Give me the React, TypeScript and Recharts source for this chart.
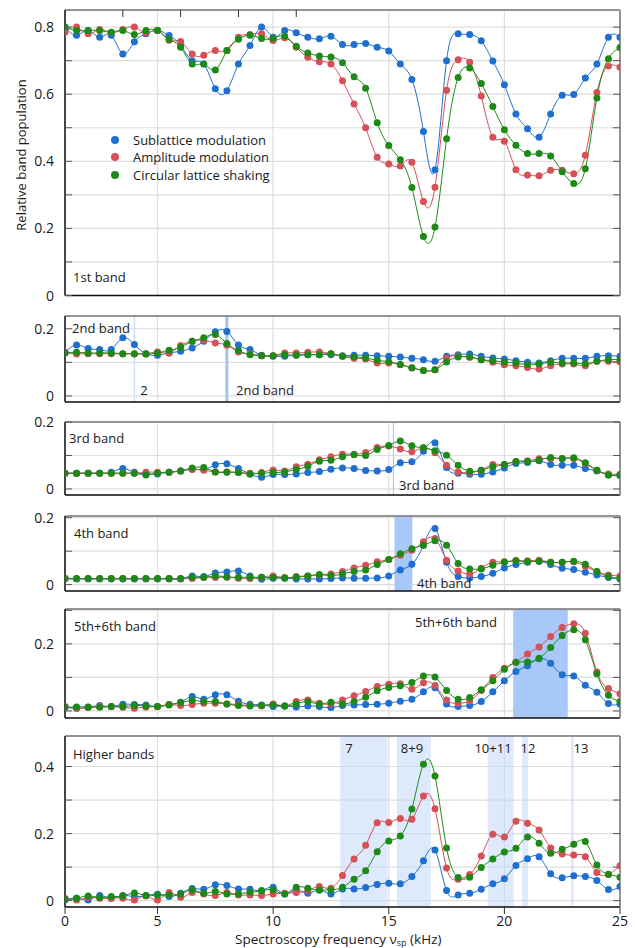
import React from 'react';
import { LineChart, Line, XAxis, YAxis, CartesianGrid, ReferenceArea, ReferenceLine, Legend } from 'recharts';

// spectroscopy frequency (kHz); the left-most column is drawn at the "0" tick
const freq = [
  1, 1.5, 2, 2.5, 3, 3.5, 4, 4.5, 5,
  5.5, 6, 6.5, 7, 7.5, 8, 8.5, 9, 9.5, 10,
  10.5, 11, 11.5, 12, 12.5, 13, 13.5, 14, 14.5, 15,
  15.5, 16, 16.5, 17, 17.5, 18, 18.5, 19, 19.5, 20,
  20.5, 21, 21.5, 22, 22.5, 23, 23.5, 24, 24.5, 25,
];

const seriesNames = ['Sublattice modulation', 'Amplitude modulation', 'Circular lattice shaking'];

// 1st band
const sub1 = [
  0.80, 0.776, 0.79, 0.77, 0.776, 0.72, 0.756, 0.78, 0.79,
  0.775, 0.746, 0.70, 0.69, 0.616, 0.61, 0.69, 0.745, 0.80, 0.77,
  0.79, 0.783, 0.77, 0.765, 0.773, 0.748, 0.748, 0.751, 0.74, 0.729,
  0.69, 0.644, 0.489, 0.375, 0.70, 0.78, 0.778, 0.759, 0.699, 0.628,
  0.541, 0.497, 0.472, 0.541, 0.597, 0.599, 0.648, 0.69, 0.77, 0.77,
];
const amp1 = [
  0.785, 0.80, 0.78, 0.793, 0.784, 0.793, 0.80, 0.783, 0.79,
  0.761, 0.757, 0.72, 0.716, 0.73, 0.73, 0.77, 0.778, 0.78, 0.76,
  0.768, 0.74, 0.71, 0.697, 0.69, 0.64, 0.571, 0.50, 0.412, 0.392,
  0.386, 0.397, 0.28, 0.323, 0.612, 0.703, 0.695, 0.595, 0.472, 0.46,
  0.375, 0.359, 0.357, 0.373, 0.373, 0.363, 0.418, 0.605, 0.684, 0.68,
];
const circ1 = [
  0.80, 0.79, 0.79, 0.79, 0.785, 0.79, 0.778, 0.79, 0.79,
  0.764, 0.74, 0.69, 0.69, 0.672, 0.73, 0.764, 0.776, 0.766, 0.766,
  0.773, 0.743, 0.723, 0.714, 0.711, 0.694, 0.652, 0.618, 0.515, 0.447,
  0.405, 0.322, 0.176, 0.204, 0.467, 0.65, 0.678, 0.632, 0.563, 0.494,
  0.448, 0.423, 0.423, 0.416, 0.369, 0.334, 0.378, 0.589, 0.706, 0.739,
];

// 2nd band
const sub2 = [
  0.13, 0.152, 0.141, 0.138, 0.138, 0.173, 0.153, 0.126, 0.121,
  0.128, 0.133, 0.143, 0.163, 0.191, 0.192, 0.152, 0.138, 0.121, 0.118,
  0.118, 0.122, 0.123, 0.123, 0.123, 0.12, 0.121, 0.121, 0.12, 0.118,
  0.116, 0.112, 0.108, 0.103, 0.118, 0.123, 0.125, 0.118, 0.113, 0.11,
  0.105, 0.10, 0.098, 0.105, 0.112, 0.112, 0.112, 0.118, 0.12, 0.118,
];
const amp2 = [
  0.128, 0.125, 0.126, 0.126, 0.126, 0.125, 0.125, 0.125, 0.131,
  0.128, 0.15, 0.163, 0.166, 0.158, 0.151, 0.131, 0.125, 0.12, 0.12,
  0.128, 0.128, 0.13, 0.131, 0.126, 0.118, 0.112, 0.11, 0.098, 0.098,
  0.093, 0.083, 0.076, 0.078, 0.113, 0.118, 0.115, 0.108, 0.10, 0.093,
  0.09, 0.085, 0.08, 0.09, 0.095, 0.095, 0.09, 0.103, 0.103, 0.101,
];
const circ2 = [
  0.128, 0.13, 0.128, 0.128, 0.128, 0.126, 0.126, 0.125, 0.128,
  0.136, 0.145, 0.163, 0.173, 0.183, 0.156, 0.135, 0.123, 0.12, 0.12,
  0.123, 0.121, 0.123, 0.123, 0.126, 0.118, 0.116, 0.113, 0.106, 0.102,
  0.094, 0.084, 0.076, 0.078, 0.101, 0.116, 0.116, 0.108, 0.105, 0.101,
  0.098, 0.093, 0.095, 0.10, 0.098, 0.098, 0.096, 0.103, 0.108, 0.108,
];

// 3rd band
const sub3 = [
  0.047, 0.047, 0.047, 0.047, 0.05, 0.061, 0.05, 0.045, 0.045,
  0.05, 0.054, 0.06, 0.058, 0.072, 0.075, 0.061, 0.045, 0.035, 0.043,
  0.043, 0.045, 0.049, 0.052, 0.059, 0.063, 0.061, 0.055, 0.054, 0.058,
  0.078, 0.081, 0.113, 0.138, 0.064, 0.047, 0.044, 0.044, 0.051, 0.063,
  0.076, 0.079, 0.084, 0.073, 0.071, 0.071, 0.061, 0.054, 0.042, 0.04,
];
const amp3 = [
  0.047, 0.047, 0.047, 0.047, 0.047, 0.047, 0.047, 0.05, 0.05,
  0.05, 0.054, 0.058, 0.056, 0.051, 0.051, 0.049, 0.047, 0.049, 0.057,
  0.054, 0.066, 0.074, 0.087, 0.096, 0.104, 0.104, 0.109, 0.124, 0.128,
  0.119, 0.111, 0.123, 0.108, 0.071, 0.051, 0.049, 0.056, 0.073, 0.073,
  0.082, 0.084, 0.09, 0.091, 0.091, 0.091, 0.076, 0.056, 0.045, 0.044,
];
const circ3 = [
  0.047, 0.047, 0.047, 0.047, 0.047, 0.047, 0.047, 0.042, 0.047,
  0.05, 0.054, 0.063, 0.064, 0.051, 0.05, 0.049, 0.045, 0.047, 0.049,
  0.051, 0.058, 0.068, 0.083, 0.086, 0.096, 0.102, 0.10, 0.118, 0.13,
  0.143, 0.129, 0.123, 0.114, 0.101, 0.071, 0.053, 0.056, 0.066, 0.073,
  0.082, 0.082, 0.086, 0.094, 0.091, 0.093, 0.078, 0.056, 0.042, 0.042,
];

// 4th band
const sub4 = [
  0.018, 0.017, 0.017, 0.017, 0.017, 0.017, 0.017, 0.017, 0.017,
  0.017, 0.017, 0.026, 0.024, 0.035, 0.038, 0.041, 0.026, 0.016, 0.019,
  0.019, 0.017, 0.017, 0.017, 0.018, 0.02, 0.019, 0.019, 0.02, 0.026,
  0.044, 0.061, 0.118, 0.168, 0.067, 0.024, 0.02, 0.024, 0.034, 0.05,
  0.06, 0.067, 0.07, 0.06, 0.049, 0.045, 0.037, 0.029, 0.021, 0.017,
];
const amp4 = [
  0.018, 0.018, 0.018, 0.018, 0.018, 0.018, 0.018, 0.018, 0.018,
  0.018, 0.018, 0.018, 0.021, 0.021, 0.022, 0.019, 0.018, 0.022, 0.026,
  0.021, 0.024, 0.026, 0.029, 0.032, 0.039, 0.05, 0.058, 0.068, 0.075,
  0.088, 0.103, 0.128, 0.138, 0.073, 0.041, 0.032, 0.049, 0.067, 0.068,
  0.072, 0.071, 0.073, 0.067, 0.067, 0.068, 0.055, 0.039, 0.029, 0.026,
];
const circ4 = [
  0.018, 0.018, 0.018, 0.018, 0.018, 0.018, 0.018, 0.018, 0.018,
  0.018, 0.018, 0.022, 0.022, 0.026, 0.023, 0.022, 0.022, 0.022, 0.021,
  0.02, 0.022, 0.026, 0.03, 0.027, 0.032, 0.039, 0.044, 0.06, 0.075,
  0.092, 0.107, 0.118, 0.131, 0.118, 0.063, 0.047, 0.047, 0.058, 0.067,
  0.071, 0.068, 0.07, 0.067, 0.067, 0.07, 0.061, 0.039, 0.024, 0.019,
];

// 5th+6th band
const sub5 = [
  0.011, 0.008, 0.011, 0.016, 0.013, 0.02, 0.019, 0.018, 0.013,
  0.019, 0.026, 0.043, 0.035, 0.048, 0.048, 0.029, 0.02, 0.018, 0.013,
  0.015, 0.012, 0.015, 0.013, 0.01, 0.016, 0.018, 0.019, 0.02, 0.023,
  0.029, 0.035, 0.057, 0.069, 0.021, 0.013, 0.016, 0.028, 0.057, 0.09,
  0.118, 0.135, 0.156, 0.142, 0.108, 0.104, 0.077, 0.056, 0.022, 0.021,
];
const amp5 = [
  0.013, 0.008, 0.01, 0.013, 0.013, 0.011, 0.008, 0.012, 0.013,
  0.019, 0.016, 0.019, 0.023, 0.023, 0.021, 0.019, 0.016, 0.015, 0.021,
  0.015, 0.028, 0.033, 0.023, 0.021, 0.033, 0.045, 0.058, 0.073, 0.08,
  0.081, 0.065, 0.084, 0.076, 0.033, 0.023, 0.03, 0.061, 0.10, 0.127,
  0.145, 0.17, 0.191, 0.222, 0.249, 0.26, 0.232, 0.116, 0.067, 0.051,
];
const circ5 = [
  0.011, 0.012, 0.012, 0.011, 0.013, 0.013, 0.016, 0.015, 0.013,
  0.018, 0.025, 0.031, 0.028, 0.028, 0.021, 0.016, 0.015, 0.016, 0.018,
  0.015, 0.021, 0.028, 0.02, 0.026, 0.021, 0.028, 0.041, 0.06, 0.07,
  0.075, 0.085, 0.104, 0.101, 0.061, 0.035, 0.04, 0.063, 0.09, 0.124,
  0.145, 0.146, 0.157, 0.189, 0.225, 0.242, 0.212, 0.111, 0.047, 0.028,
];

// higher bands
const sub6 = [
  0.002, 0.007, 0.002, 0.015, 0.007, 0.015, 0.012, 0.015, 0.019,
  0.012, 0.022, 0.036, 0.034, 0.047, 0.045, 0.035, 0.034, 0.03, 0.04,
  0.02, 0.032, 0.022, 0.032, 0.02, 0.035, 0.035, 0.039, 0.048, 0.052,
  0.05, 0.072, 0.119, 0.151, 0.03, 0.017, 0.022, 0.034, 0.05, 0.065,
  0.105, 0.125, 0.131, 0.08, 0.068, 0.074, 0.072, 0.06, 0.033, 0.042,
];
const amp6 = [
  0.007, 0.002, 0.009, 0.007, 0.007, 0.007, 0.002, 0.014, 0.002,
  0.024, 0.01, 0.024, 0.02, 0.015, 0.024, 0.017, 0.017, 0.015, 0.02,
  0.022, 0.024, 0.03, 0.042, 0.037, 0.075, 0.124, 0.165, 0.232, 0.233,
  0.245, 0.243, 0.312, 0.274, 0.097, 0.064, 0.078, 0.133, 0.198, 0.19,
  0.237, 0.231, 0.211, 0.157, 0.139, 0.136, 0.131, 0.084, 0.078, 0.104,
];
const circ6 = [
  0.004, 0.007, 0.014, 0.009, 0.012, 0.014, 0.023, 0.015, 0.017,
  0.017, 0.02, 0.032, 0.022, 0.027, 0.02, 0.02, 0.025, 0.029, 0.032,
  0.02, 0.04, 0.037, 0.032, 0.032, 0.04, 0.064, 0.089, 0.146, 0.178,
  0.193, 0.273, 0.407, 0.372, 0.157, 0.069, 0.07, 0.099, 0.124, 0.145,
  0.156, 0.19, 0.171, 0.141, 0.153, 0.168, 0.176, 0.106, 0.079, 0.07,
];

// highlighted transition regions of the higher bands (kHz)
const higherBands = [
  { name: '7', from: 12.9, to: 14.95 },
  { name: '8+9', from: 15.35, to: 16.82 },
  { name: '10+11', from: 19.28, to: 20.4 },
  { name: '12', from: 20.77, to: 21.02 },
  { name: '13', from: 22.88, to: 23.0 },
];

const xTicks = [1, 5, 10, 15, 20, 25];
const xTickText: Record<number, string> = { 1: '0', 5: '5', 10: '10', 15: '15', 20: '20', 25: '25' };

const BLUE = '#1f6fd0';
const RED = '#d74f57';
const GREEN = '#1d8a17';
const FONT = "'Open Sans', 'DejaVu Sans', sans-serif";
const W = 635;

const EmptyTick = () => <g />;

const makeYTick = (labels: number[]) => (props: any) => {
  const { x, y, payload } = props;
  const v = payload.value;
  if (!labels.some((l) => Math.abs(l - v) < 1e-9)) return <g />;
  return (
    <text x={x} y={y} dy="0.36em" textAnchor="end" fontSize={14} fill="#1a1a1a" fontFamily={FONT}>
      {v === 0 ? '0' : v.toFixed(1)}
    </text>
  );
};

const XTick = (props: any) => {
  const { x, y, payload } = props;
  return (
    <text x={x} y={y} dy="0.88em" textAnchor="middle" fontSize={14} fill="#1a1a1a" fontFamily={FONT}>
      {xTickText[payload.value]}
    </text>
  );
};

const LegendBox = ({ payload }: any) => {
  const items = [...(payload || [])].sort(
    (a: any, b: any) => seriesNames.indexOf(a.value) - seriesNames.indexOf(b.value),
  );
  return (
    <div style={{ fontFamily: FONT, fontSize: 13, color: '#1a1a1a' }}>
      {items.map((p: any) => (
        <div key={p.value} style={{ display: 'flex', alignItems: 'center', height: 17.5 }}>
          <span style={{ width: 8, height: 8, borderRadius: 4, background: p.color, marginRight: 14 }} />
          <span>{p.value}</span>
        </div>
      ))}
    </div>
  );
};

type PanelProps = {
  sub: number[];
  amp: number[];
  circ: number[];
  top: number;
  bottom: number;
  domain: [number, number];
  ticks: number[];
  labels: number[];
  first?: boolean;
  last?: boolean;
  children?: React.ReactNode;
};

const Panel = ({ sub, amp, circ, top, bottom, domain, ticks, labels, first, last, children }: PanelProps) => {
  const data = freq.map((f, i) => ({ f, sub: sub[i], amp: amp[i], circ: circ[i] }));
  const bottomH = last ? 30 : 1;
  const height = bottom - top + 10 + (last ? 30 : 10);
  const dot = (c: string) => ({ r: 3.5, fill: c, stroke: c, strokeWidth: 0 });
  return (
    <div style={{ position: 'absolute', left: 0, top: top - 10 }}>
      <LineChart width={W} height={height} data={data} margin={{ top: 9, right: 14, bottom: last ? 0 : 9, left: 0 }}>
        <CartesianGrid stroke="#dedede" strokeWidth={1.2} />
        {children}
        <XAxis
          dataKey="f"
          type="number"
          domain={[1, 25]}
          ticks={xTicks}
          height={bottomH}
          axisLine={{ stroke: '#111', strokeWidth: 1.5 }}
          tickLine={last ? { stroke: '#333' } : false}
          tickSize={7}
          tickMargin={0}
          tick={last ? <XTick /> : <EmptyTick />}
          allowDataOverflow
        />
        <XAxis
          xAxisId="top"
          orientation="top"
          type="number"
          domain={[1, 25]}
          ticks={first ? [5, 10, 15, 20] : []}
          height={1}
          axisLine={{ stroke: '#777', strokeWidth: 1.5 }}
          tickLine={first ? { stroke: '#333' } : false}
          tickSize={-7}
          tick={<EmptyTick />}
        />
        <YAxis
          type="number"
          domain={domain}
          ticks={ticks}
          width={65}
          allowDataOverflow
          interval={0}
          axisLine={{ stroke: '#111', strokeWidth: 1.5 }}
          tickLine={{ stroke: '#555' }}
          tickSize={-7}
          tickMargin={18}
          tick={makeYTick(labels)}
        />
        <YAxis
          yAxisId="r"
          orientation="right"
          type="number"
          domain={domain}
          ticks={ticks}
          width={1}
          allowDataOverflow
          interval={0}
          axisLine={{ stroke: '#777', strokeWidth: 1.5 }}
          tickLine={{ stroke: '#555' }}
          tickSize={-7}
          tick={<EmptyTick />}
        />
        {first && (
          <Legend
            layout="vertical"
            align="center"
            verticalAlign="middle"
            content={<LegendBox />}
            wrapperStyle={{ left: 111, top: 131, width: 'auto' }}
          />
        )}
        <Line type="natural" dataKey="sub" name={seriesNames[0]} stroke={BLUE} strokeWidth={1} dot={dot(BLUE)} activeDot={false} isAnimationActive={false} />
        <Line type="natural" dataKey="amp" name={seriesNames[1]} stroke={RED} strokeWidth={1} dot={dot(RED)} activeDot={false} isAnimationActive={false} />
        <Line type="natural" dataKey="circ" name={seriesNames[2]} stroke={GREEN} strokeWidth={1} dot={dot(GREEN)} activeDot={false} isAnimationActive={false} />
      </LineChart>
    </div>
  );
};

const T = (p: { x: number; y: number; children: React.ReactNode; anchor?: 'start' | 'middle' | 'end' }) => (
  <text x={p.x} y={p.y} fontSize={13} fill="#1a1a1a" fontFamily={FONT} textAnchor={p.anchor || 'start'}>
    {p.children}
  </text>
);

export default function App() {
  return (
    <div style={{ position: 'relative', width: W, height: 948, background: '#fff', fontFamily: FONT }}>
      <style>{'body{margin:0}'}</style>
      <Panel sub={sub1} amp={amp1} circ={circ1} top={10} bottom={295.5} domain={[0, 0.851]}
        ticks={[0, 0.1, 0.2, 0.3, 0.4, 0.5, 0.6, 0.7, 0.8]} labels={[0, 0.2, 0.4, 0.6, 0.8]} first />
      <Panel sub={sub2} amp={amp2} circ={circ2} top={316} bottom={402} domain={[-0.018, 0.238]}
        ticks={[0, 0.1, 0.2]} labels={[0, 0.2]}>
        <ReferenceLine x={4} stroke="#cddff8" strokeWidth={1.5} />
        <ReferenceLine x={8} stroke="#9fc2f4" strokeWidth={3} />
      </Panel>
      <Panel sub={sub3} amp={amp3} circ={circ3} top={422} bottom={495} domain={[-0.018, 0.2]}
        ticks={[0, 0.1, 0.2]} labels={[0, 0.2]}>
        <ReferenceLine x={15.2} stroke="#9fc2f4" strokeWidth={1} />
      </Panel>
      <Panel sub={sub4} amp={amp4} circ={circ4} top={516} bottom={591} domain={[-0.019, 0.205]}
        ticks={[0, 0.1, 0.2]} labels={[0, 0.2]}>
        <ReferenceArea x1={15.25} x2={16.02} fill="#a8c8f7" fillOpacity={1} stroke="none" />
      </Panel>
      <Panel sub={sub5} amp={amp5} circ={circ5} top={609} bottom={718} domain={[-0.021, 0.304]}
        ticks={[0, 0.1, 0.2, 0.3]} labels={[0, 0.2]}>
        <ReferenceArea x1={20.38} x2={22.74} fill="#a8c8f7" fillOpacity={1} stroke="none" />
      </Panel>
      <Panel sub={sub6} amp={amp6} circ={circ6} top={736} bottom={907} domain={[-0.019, 0.491]}
        ticks={[0, 0.1, 0.2, 0.3, 0.4]} labels={[0, 0.2, 0.4]} last>
        {higherBands.map((b) => (
          <ReferenceArea key={b.name} x1={b.from} x2={b.to} fill="#c2d8f8" fillOpacity={0.55} stroke="none" />
        ))}
      </Panel>

      <svg width={W} height={948} style={{ position: 'absolute', left: 0, top: 0, pointerEvents: 'none' }}>
        <text transform="translate(21,155) rotate(-90)" textAnchor="middle" dy="0.35em" fontSize={13} fill="#1a1a1a" fontFamily={FONT}>
          Relative band population
        </text>
        <T x={73} y={282}>1st band</T>
        <T x={72} y={333}>2nd band</T>
        <T x={144} y={395} anchor="middle">2</T>
        <T x={236} y={395}>2nd band</T>
        <T x={69} y={443}>3rd band</T>
        <T x={399} y={490}>3rd band</T>
        <T x={74} y={538}>4th band</T>
        <T x={417} y={588}>4th band</T>
        <T x={74} y={631}>5th+6th band</T>
        <T x={415} y={627}>5th+6th band</T>
        <T x={73} y={759}>Higher bands</T>
        <T x={349} y={753} anchor="middle">7</T>
        <T x={412} y={753} anchor="middle">8+9</T>
        <T x={493} y={753} anchor="middle">10+11</T>
        <T x={528} y={753} anchor="middle">12</T>
        <T x={581} y={753} anchor="middle">13</T>
        <text x={235} y={944} fontSize={13.5} fill="#1a1a1a" fontFamily={FONT}>
          Spectroscopy frequency ν<tspan fontSize={9} dy={1.5}>sp</tspan>
          <tspan dy={-1.5}> (kHz)</tspan>
        </text>
      </svg>
    </div>
  );
}
